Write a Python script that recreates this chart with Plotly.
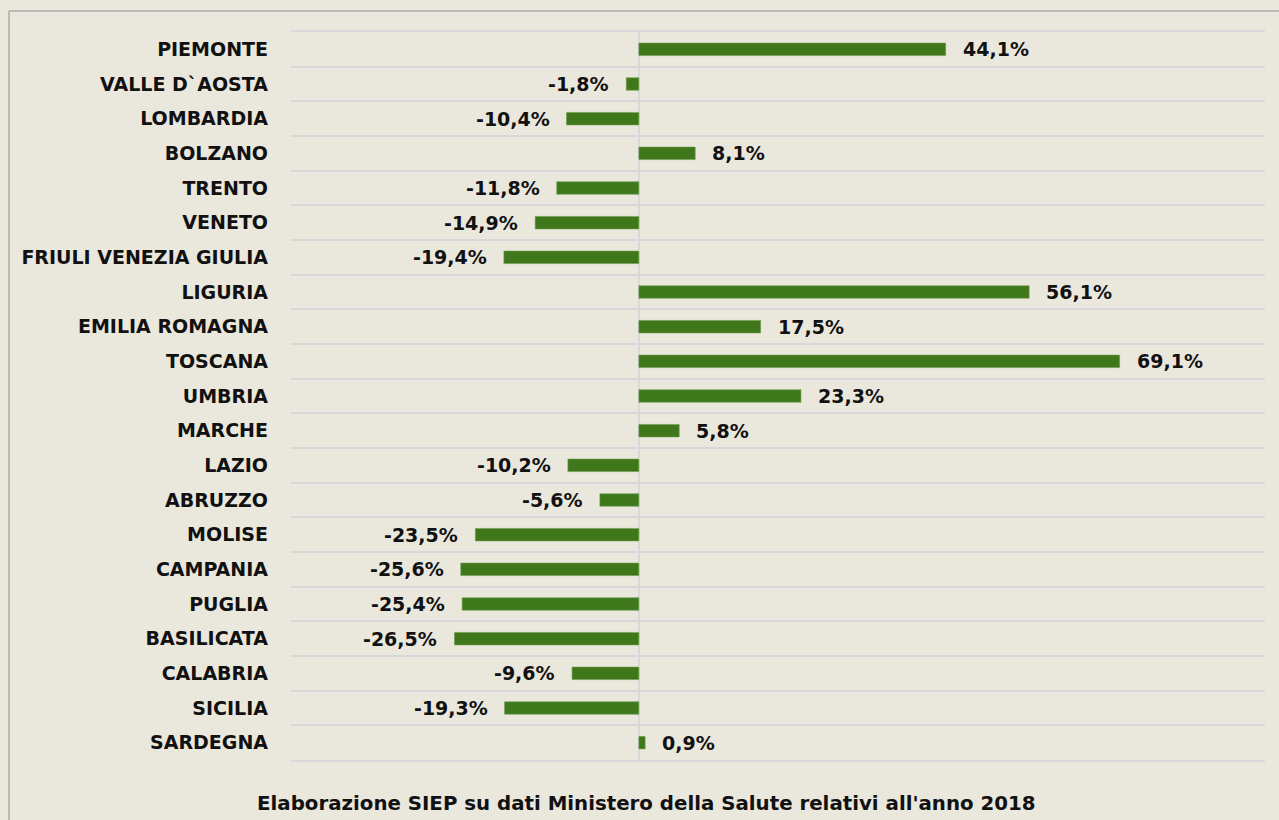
import plotly.graph_objects as go

regions = ["PIEMONTE", "VALLE D`AOSTA", "LOMBARDIA", "BOLZANO", "TRENTO", "VENETO",
           "FRIULI VENEZIA GIULIA", "LIGURIA", "EMILIA ROMAGNA", "TOSCANA", "UMBRIA",
           "MARCHE", "LAZIO", "ABRUZZO", "MOLISE", "CAMPANIA", "PUGLIA", "BASILICATA",
           "CALABRIA", "SICILIA", "SARDEGNA"]
values = [44.1, -1.8, -10.4, 8.1, -11.8, -14.9, -19.4, 56.1, 17.5, 69.1, 23.3,
          5.8, -10.2, -5.6, -23.5, -25.6, -25.4, -26.5, -9.6, -19.3, 0.9]
caption = "Elaborazione SIEP su dati Ministero della Salute relativi all'anno 2018"

BG = "#EAE7DD"
GRID = "#D8D8DB"
GREEN = "#3F781A"
FONT = "DejaVu Sans"

fig = go.Figure(go.Bar(
    x=values, y=regions, orientation="h",
    marker=dict(color=GREEN, line=dict(color="#6E9A4E", width=0.6)),
    hoverinfo="skip",
))

for r, v in zip(regions, values):
    lbl = f"{v:.1f}%".replace(".", ",")
    fig.add_annotation(
        x=v, y=r, xref="x", yref="y", text=f"<b>{lbl}</b>",
        showarrow=False, xanchor="left" if v >= 0 else "right",
        xshift=15 if v >= 0 else -15,
        font=dict(family=FONT, size=19, color="#111111"),
    )

fig.add_annotation(
    x=(646 - 291) / 974, y=-(803 - 760) / 728, xref="paper", yref="paper",
    text=f"<b>{caption}</b>", showarrow=False, xanchor="center", yanchor="middle",
    font=dict(family=FONT, size=19.8, color="#111111"),
)

# outer frame lines (top and left)
fig.add_shape(type="line", xref="paper", yref="paper",
              x0=(9 - 291) / 974, x1=1.2, y0=(760 - 11) / 728, y1=(760 - 11) / 728,
              line=dict(color="#ABABAB", width=1.5))
fig.add_shape(type="line", xref="paper", yref="paper",
              x0=(9 - 291) / 974, x1=(9 - 291) / 974, y0=(760 - 11) / 728, y1=-0.2,
              line=dict(color="#ABABAB", width=1.5))

fig.update_layout(
    width=1279, height=820,
    paper_bgcolor=BG, plot_bgcolor=BG,
    margin=dict(l=291, r=14, t=32, b=60),
    bargap=0.64,
    showlegend=False,
    xaxis=dict(range=[-50, 90], showgrid=False, showticklabels=False, ticks="",
               zeroline=True, zerolinecolor=GRID, zerolinewidth=2,
               showline=True, linecolor=GRID, linewidth=2, mirror=True),
    yaxis=dict(autorange="reversed", tickson="boundaries", showgrid=True,
               gridcolor=GRID, gridwidth=2, ticks="", ticklabelstandoff=22,
               tickfont=dict(family=FONT, size=19, color="#111111", weight="bold"),
               showline=False),
)

fig.write_html("out.html", config={"displayModeBar": False},
               post_script="document.body.style.margin='0';document.body.style.background='#EAE7DD';")
